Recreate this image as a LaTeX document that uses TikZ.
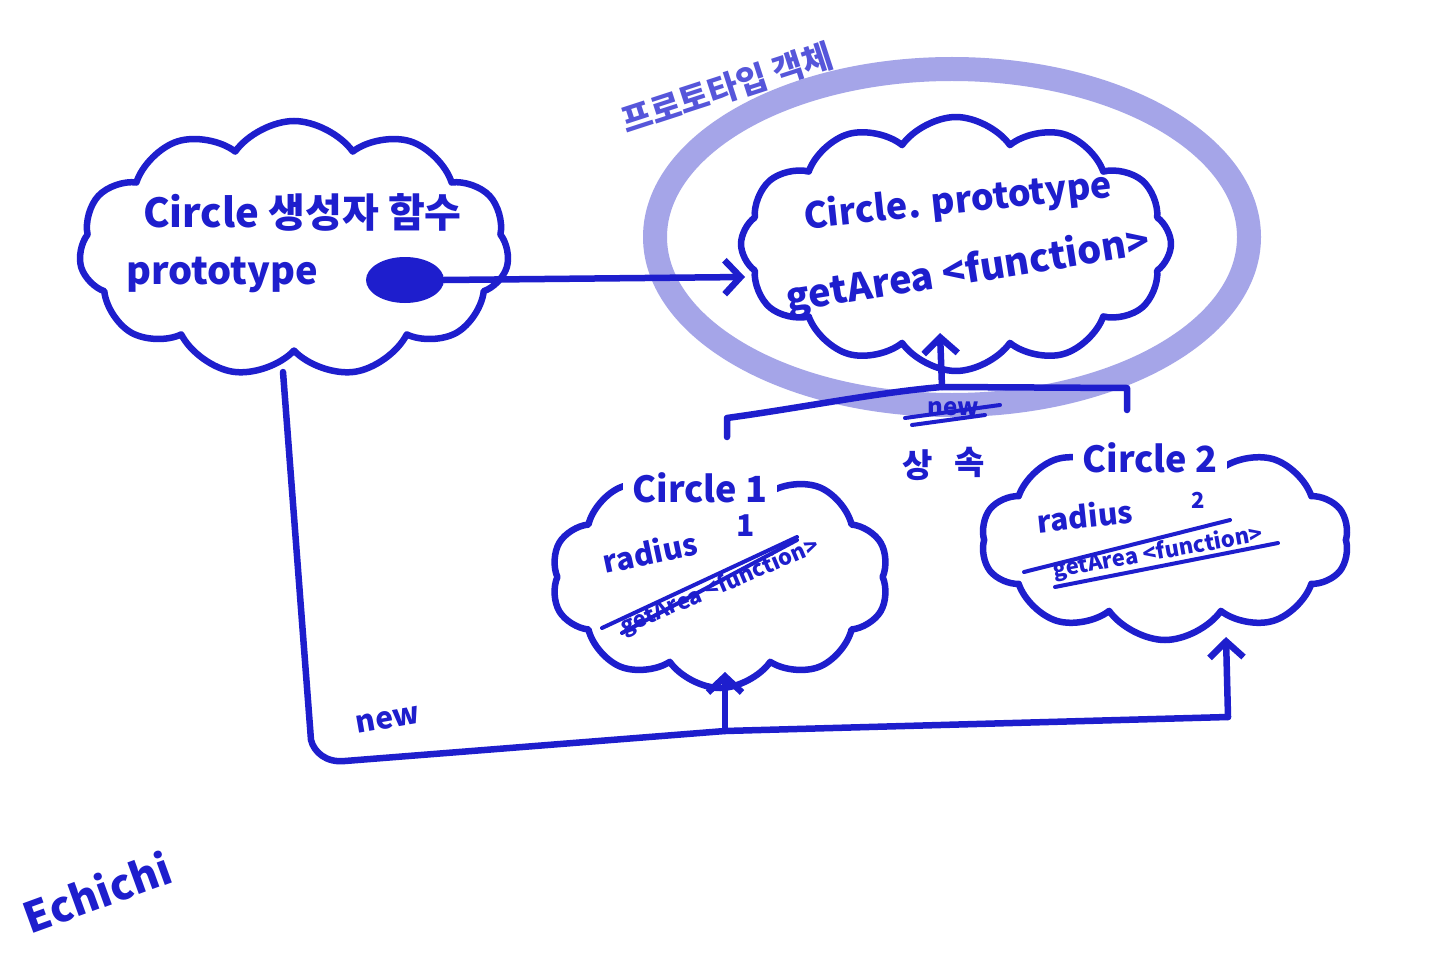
\documentclass[tikz,border=0pt]{standalone}
\usepackage{fontspec}
\setmainfont{Noto Sans CJK KR}
\usetikzlibrary{shapes.symbols,shapes.geometric,arrows.meta}
\definecolor{ink}{RGB}{30,30,205}
\definecolor{hl}{RGB}{150,150,228}
\begin{document}
\begin{tikzpicture}[x=1pt,y=-1pt,line cap=round,line join=round,
  pen/.style={draw=ink,line width=6.5pt},
  thinpen/.style={draw=ink,line width=4pt},
  puffy/.style={cloud,cloud puffs=#1,draw=ink,line width=6.5pt,inner sep=0pt,cloud puff arc=110},
  arr/.style={pen,-{Straight Barb[length=16pt,width=34pt]}},
  big/.style={text=ink,font=\fontsize{38}{42}\selectfont\bfseries,inner sep=1pt},
  mid/.style={text=ink,font=\fontsize{30}{34}\selectfont\bfseries,inner sep=1pt},
  small/.style={text=ink,font=\fontsize{22}{26}\selectfont\bfseries,inner sep=1pt},
  titlebox/.style={text=ink,font=\fontsize{36}{40}\selectfont\bfseries,fill=white,inner xsep=10pt,inner ysep=14pt}]
\useasboundingbox (0,0) rectangle (1440,960);
\fill[white] (0,0) rectangle (1440,960);

% highlight of the prototype object
\draw[hl,line width=24pt,opacity=0.85] (952,237) ellipse [x radius=297,y radius=168];

% clouds
\node[puffy=11,minimum width=430pt,minimum height=256pt] (cons) at (294,249) {};
\node[puffy=12,minimum width=430pt,minimum height=254pt] (proto) at (956,244) {};
\node[puffy=10,minimum width=338pt,minimum height=222pt] (c1) at (720,577) {};
\node[puffy=10,minimum width=368pt,minimum height=200pt] (c2) at (1165,540) {};

% constructor cloud content
\node[big,anchor=west,font=\fontsize{40}{44}\selectfont\bfseries] (constitle) at (142,212) {Circle 생성자 함수};
\node[big,anchor=west] (consproto) at (125,275) {prototype};
\node[ellipse,fill=ink,minimum width=78pt,minimum height=46pt,inner sep=0pt] (dot) at (405,280) {};
\coordinate (protoin) at (745,277);
\draw[arr] (dot.east) -- (protoin);

% prototype cloud content
\node[big,rotate=6,font=\fontsize{36}{40}\selectfont\bfseries] (ptitle) at (958,202) {Circle. prototype};
\node[big,rotate=9] (pget) at (968,272) {getArea <function>};
\node[mid,rotate=18,text=ink!75,font=\fontsize{33}{36}\selectfont\bfseries] (plabel) at (727,88) {프로토타입 객체};

% Circle 1
\node[titlebox] (c1title) at (700,488) {Circle 1};
\node[mid,rotate=12] (c1rad) at (650,552) {radius};
\node[mid] (c1val) at (746,526) {1};
\node[small,rotate=23] (c1get) at (720,587) {getArea <function>};
\draw[thinpen] (602,628) -- (797,537);
\draw[thinpen] (622,633) -- (797,540);

% Circle 2
\node[titlebox] (c2title) at (1150,458) {Circle 2};
\node[mid,rotate=6] (c2rad) at (1085,516) {radius};
\node[small] (c2val) at (1198,500) {2};
\node[small,rotate=10] (c2get) at (1158,553) {getArea <function>};
\draw[thinpen] (1024,572) -- (1230,520);
\draw[thinpen] (1055,587) -- (1278,543);

% inheritance bracket
\coordinate (brL) at (727,437);
\coordinate (brLt) at (727,418);
\coordinate (brM) at (942,387);
\coordinate (brRt) at (1127,388);
\coordinate (brR) at (1127,410);
\coordinate (brTip) at (940,333);
\draw[pen] (brL) -- (brLt) .. controls (800,408) and (880,392) .. (brM) -- (brRt) -- (brR);
\draw[arr] (brM) -- (brTip);
\node[small,font=\fontsize{24}{28}\selectfont\bfseries] (strnew) at (953,409) {new};
\draw[thinpen] (905,418) -- (1000,405);
\draw[thinpen] (912,425) -- (985,415);
\node[mid,font=\fontsize{33}{36}\selectfont\bfseries] (inh1) at (918,465) {상};
\node[mid,font=\fontsize{33}{36}\selectfont\bfseries] (inh2) at (970,462) {속};

% new connectors
\coordinate (consfoot) at (283,372);
\coordinate (bus1) at (725,731);
\coordinate (bus2) at (1228,717);
\draw[pen] (consfoot) -- (311,740) .. controls (314,752) and (326,763) .. (345,761) -- (bus1) -- (bus2);
\draw[arr] (bus1) -- (725,672);
\draw[arr] (bus2) -- (1226,637);
\node[mid,rotate=10] (newlbl) at (388,720) {new};

% signature
\node[big,rotate=20,font=\fontsize{42}{46}\selectfont\bfseries] (sig) at (97,892) {Echichi};
\end{tikzpicture}
\end{document}
